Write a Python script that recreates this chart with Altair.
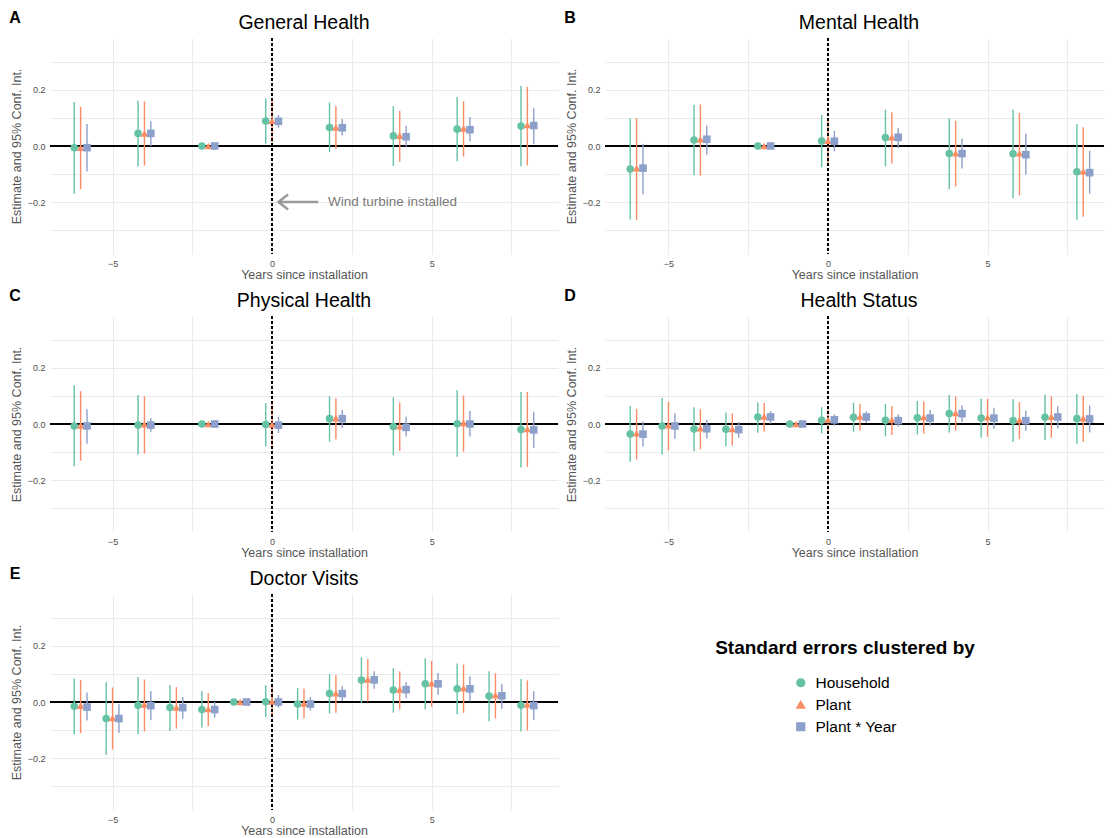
import altair as alt
import pandas as pd

SERIES = ["Household", "Plant", "Plant * Year"]
COLORS = ["#66C2A5", "#FC8D62", "#8DA0CB"]
SHAPES = ["circle", "triangle-up", "square"]

# ---------------- Panel A: General Health ----------------
A_years = [-6, -4, -2, 0, 2, 4, 6, 8]
A_hh_est = [-0.006, 0.045, 0.0, 0.089, 0.066, 0.036, 0.060, 0.071]
A_hh_lo = [-0.170, -0.072, 0.0, 0.008, -0.022, -0.071, -0.054, -0.072]
A_hh_hi = [0.157, 0.161, 0.0, 0.169, 0.155, 0.142, 0.175, 0.214]
A_pl_est = [-0.006, 0.045, 0.0, 0.089, 0.066, 0.037, 0.063, 0.075]
A_pl_lo = [-0.154, -0.070, 0.0, 0.014, -0.011, -0.056, -0.038, -0.069]
A_pl_hi = [0.140, 0.159, 0.0, 0.163, 0.143, 0.125, 0.159, 0.211]
A_py_est = [-0.006, 0.045, 0.0, 0.088, 0.065, 0.033, 0.058, 0.073]
A_py_lo = [-0.091, 0.000, 0.0, 0.065, 0.037, -0.002, 0.017, 0.006]
A_py_hi = [0.078, 0.088, 0.0, 0.111, 0.096, 0.072, 0.103, 0.135]

# ---------------- Panel B: Mental Health ----------------
B_years = [-6, -4, -2, 0, 2, 4, 6, 8]
B_hh_est = [-0.082, 0.021, 0.0, 0.018, 0.030, -0.027, -0.028, -0.092]
B_hh_lo = [-0.262, -0.104, 0.0, -0.076, -0.072, -0.154, -0.185, -0.263]
B_hh_hi = [0.098, 0.147, 0.0, 0.111, 0.129, 0.099, 0.129, 0.078]
B_pl_est = [-0.079, 0.024, 0.0, 0.019, 0.031, -0.026, -0.026, -0.090]
B_pl_lo = [-0.264, -0.105, 0.0, -0.070, -0.062, -0.144, -0.176, -0.252]
B_pl_hi = [0.099, 0.148, 0.0, 0.100, 0.120, 0.090, 0.118, 0.067]
B_py_est = [-0.079, 0.024, 0.0, 0.017, 0.031, -0.027, -0.031, -0.095]
B_py_lo = [-0.172, -0.030, 0.0, -0.019, -0.008, -0.080, -0.102, -0.170]
B_py_hi = [0.008, 0.072, 0.0, 0.054, 0.065, 0.026, 0.044, -0.017]

# ---------------- Panel C: Physical Health ----------------
C_years = [-6, -4, -2, 0, 2, 4, 6, 8]
C_hh_est = [-0.007, -0.004, 0.0, -0.002, 0.019, -0.009, 0.001, -0.020]
C_hh_lo = [-0.151, -0.109, 0.0, -0.080, -0.063, -0.112, -0.117, -0.155]
C_hh_hi = [0.138, 0.103, 0.0, 0.075, 0.099, 0.095, 0.121, 0.114]
C_pl_est = [-0.005, -0.001, 0.0, -0.002, 0.021, -0.008, 0.004, -0.018]
C_pl_lo = [-0.131, -0.105, 0.0, -0.078, -0.054, -0.095, -0.099, -0.153]
C_pl_hi = [0.117, 0.099, 0.0, 0.070, 0.092, 0.076, 0.102, 0.114]
C_py_est = [-0.007, -0.004, 0.0, -0.004, 0.019, -0.012, 0.000, -0.021]
C_py_lo = [-0.070, -0.028, 0.0, -0.032, -0.013, -0.045, -0.045, -0.085]
C_py_hi = [0.053, 0.021, 0.0, 0.026, 0.050, 0.027, 0.046, 0.044]

# ---------------- Panel D: Health Status ----------------
D_years = [-6, -5, -4, -3, -2, -1, 0, 1, 2, 3, 4, 5, 6, 7, 8]
D_hh_est = [-0.036, -0.007, -0.018, -0.019, 0.025, 0.0, 0.013, 0.024, 0.013, 0.022, 0.037, 0.021, 0.012, 0.024, 0.019]
D_hh_lo = [-0.135, -0.109, -0.097, -0.080, -0.031, 0.0, -0.033, -0.028, -0.044, -0.037, -0.030, -0.049, -0.064, -0.057, -0.070]
D_hh_hi = [0.064, 0.093, 0.060, 0.041, 0.077, 0.0, 0.060, 0.076, 0.071, 0.082, 0.103, 0.091, 0.088, 0.105, 0.107]
D_pl_est = [-0.033, -0.004, -0.015, -0.018, 0.027, 0.0, 0.015, 0.027, 0.015, 0.025, 0.039, 0.024, 0.014, 0.026, 0.021]
D_pl_lo = [-0.127, -0.095, -0.090, -0.077, -0.027, 0.0, -0.031, -0.024, -0.039, -0.034, -0.024, -0.046, -0.054, -0.049, -0.063]
D_pl_hi = [0.054, 0.079, 0.053, 0.038, 0.075, 0.0, 0.052, 0.071, 0.064, 0.080, 0.098, 0.089, 0.078, 0.098, 0.101]
D_py_est = [-0.036, -0.007, -0.017, -0.020, 0.025, 0.0, 0.015, 0.025, 0.012, 0.021, 0.037, 0.021, 0.012, 0.025, 0.018]
D_py_lo = [-0.080, -0.053, -0.052, -0.049, 0.001, 0.0, -0.006, 0.004, -0.009, -0.006, 0.007, -0.017, -0.024, -0.015, -0.030]
D_py_hi = [0.009, 0.038, 0.015, 0.007, 0.046, 0.0, 0.034, 0.045, 0.034, 0.050, 0.067, 0.058, 0.047, 0.063, 0.066]

# ---------------- Panel E: Doctor Visits ----------------
E_years = [-6, -5, -4, -3, -2, -1, 0, 1, 2, 3, 4, 5, 6, 7, 8]
E_hh_est = [-0.015, -0.059, -0.012, -0.020, -0.027, 0.0, 0.001, -0.007, 0.030, 0.078, 0.043, 0.065, 0.047, 0.021, -0.012]
E_hh_lo = [-0.115, -0.188, -0.114, -0.103, -0.091, 0.0, -0.054, -0.063, -0.041, -0.004, -0.038, -0.026, -0.044, -0.069, -0.105]
E_hh_hi = [0.084, 0.070, 0.089, 0.060, 0.038, 0.0, 0.060, 0.050, 0.099, 0.160, 0.121, 0.156, 0.137, 0.110, 0.082]
E_pl_est = [-0.013, -0.057, -0.009, -0.019, -0.025, 0.0, 0.002, -0.005, 0.031, 0.080, 0.045, 0.067, 0.050, 0.025, -0.009]
E_pl_lo = [-0.111, -0.169, -0.105, -0.095, -0.086, 0.0, -0.051, -0.058, -0.038, 0.002, -0.026, -0.017, -0.039, -0.059, -0.101]
E_pl_hi = [0.079, 0.052, 0.080, 0.053, 0.032, 0.0, 0.054, 0.047, 0.095, 0.153, 0.110, 0.147, 0.133, 0.103, 0.077]
E_py_est = [-0.018, -0.059, -0.013, -0.020, -0.027, 0.0, 0.000, -0.007, 0.030, 0.079, 0.044, 0.065, 0.047, 0.022, -0.013]
E_py_lo = [-0.066, -0.110, -0.064, -0.060, -0.056, 0.0, -0.020, -0.030, 0.004, 0.047, 0.013, 0.026, 0.002, -0.024, -0.064]
E_py_hi = [0.034, -0.008, 0.039, 0.018, 0.000, 0.0, 0.025, 0.018, 0.056, 0.110, 0.071, 0.103, 0.091, 0.065, 0.038]

X_TICKS = [-5, -2.5, 0, 2.5, 5, 7.5]
Y_TICKS = [-0.3, -0.2, -0.1, 0.0, 0.1, 0.2, 0.3]
X_DOMAIN_LEFT = [-6.96, 8.96]
X_DOMAIN_RIGHT = [-6.99, 8.65]
Y_DOMAIN = [-0.385, 0.385]
DODGE = 0.2

FONT = "Liberation Sans"
W_LEFT, W_RIGHT, H = 508, 499, 216

y_scale = alt.Scale(domain=Y_DOMAIN, nice=False, zero=False)
x_axis = alt.Axis(values=X_TICKS, title="Years since installation",
                  labelExpr="(datum.value == -5 || datum.value == 0 || datum.value == 5) ? datum.label : ''")
y_axis = alt.Axis(values=Y_TICKS, format=".1f", title="Estimate and 95% Conf. Int.",
                  labelExpr="(abs(datum.value) < 0.01 || abs(abs(datum.value) - 0.2) < 0.01) ? datum.label : ''")


def build_df(years, est_lists, lo_lists, hi_lists):
    rows = []
    for k, s in enumerate(SERIES):
        for i, yr in enumerate(years):
            rows.append({"year": yr, "series": s, "k": k,
                         "est": est_lists[k][i], "lo": lo_lists[k][i], "hi": hi_lists[k][i]})
    return pd.DataFrame(rows)


LEGEND = alt.Legend(title="Standard errors clustered by")
color_enc = alt.Color("series:N", scale=alt.Scale(domain=SERIES, range=COLORS), legend=LEGEND)
shape_enc = alt.Shape("series:N", scale=alt.Scale(domain=SERIES, range=SHAPES), legend=LEGEND)


def panel(letter, title, df, x_domain, width, annotate=False):
    x_scale = alt.Scale(domain=x_domain, nice=False, zero=False)
    base = alt.Chart(df).transform_calculate(
        xpos=f"datum.year + (datum.k - 1) * {DODGE}"
    )
    x_enc = alt.X("xpos:Q", scale=x_scale, axis=x_axis)

    hline = alt.Chart(df).mark_rule(color="black", strokeWidth=1).encode(
        y=alt.Y(datum=0, scale=y_scale, axis=y_axis))
    bars = base.mark_rule(strokeWidth=1.4).encode(
        x=x_enc,
        y=alt.Y("lo:Q", scale=y_scale, axis=y_axis),
        y2="hi:Q",
        color=color_enc,
    )
    vline = alt.Chart(df).mark_rule(color="black", strokeWidth=0.9, strokeDash=[3, 2]).encode(
        x=alt.X(datum=0, scale=x_scale, axis=x_axis))
    pts = base.mark_point(filled=True, size=58, opacity=1).encode(
        x=x_enc,
        y=alt.Y("est:Q", scale=y_scale, axis=y_axis),
        color=color_enc,
        shape=shape_enc,
    )
    lab_df = pd.DataFrame({"letter": [letter], "title": [title]})
    lab = alt.Chart(lab_df).mark_text(
        font=FONT, fontSize=16, fontWeight="bold", align="center", baseline="middle", color="black"
    ).encode(text="letter:N", x=alt.value(-35), y=alt.value(-20))
    ttl = alt.Chart(lab_df).mark_text(
        font=FONT, fontSize=19.5, align="center", baseline="alphabetic", color="black"
    ).encode(text="title:N", x=alt.value(W_LEFT / 2), y=alt.value(-9))

    layers = [hline, bars, vline, pts, lab, ttl]
    if annotate:
        arrow_df = pd.DataFrame({"x1": [1.45], "x2": [0.2], "y": [-0.2],
                                 "tx": [1.75], "txt": ["Wind turbine installed"]})
        shaft = alt.Chart(arrow_df).mark_rule(color="#9a9a9a", strokeWidth=2.5).encode(
            x=alt.X("x1:Q", scale=x_scale, axis=x_axis), x2="x2:Q",
            y=alt.Y("y:Q", scale=y_scale, axis=y_axis))
        head = alt.Chart(arrow_df).mark_point(
            shape="M1.6,-1.25L0,0L1.6,1.25", filled=False, color="#9a9a9a",
            strokeWidth=2.5, size=144, opacity=1).encode(
            x=alt.X("x2:Q", scale=x_scale, axis=x_axis),
            y=alt.Y("y:Q", scale=y_scale, axis=y_axis))
        txt = alt.Chart(arrow_df).mark_text(
            font=FONT, fontSize=13.5, color="#7a7a7a", align="left", baseline="middle").encode(
            x=alt.X("tx:Q", scale=x_scale, axis=x_axis),
            y=alt.Y("y:Q", scale=y_scale, axis=y_axis), text="txt:N")
        layers += [shaft, head, txt]

    return alt.layer(*layers).properties(width=width, height=H)


dfA = build_df(A_years, [A_hh_est, A_pl_est, A_py_est], [A_hh_lo, A_pl_lo, A_py_lo], [A_hh_hi, A_pl_hi, A_py_hi])
dfB = build_df(B_years, [B_hh_est, B_pl_est, B_py_est], [B_hh_lo, B_pl_lo, B_py_lo], [B_hh_hi, B_pl_hi, B_py_hi])
dfC = build_df(C_years, [C_hh_est, C_pl_est, C_py_est], [C_hh_lo, C_pl_lo, C_py_lo], [C_hh_hi, C_pl_hi, C_py_hi])
dfD = build_df(D_years, [D_hh_est, D_pl_est, D_py_est], [D_hh_lo, D_pl_lo, D_py_lo], [D_hh_hi, D_pl_hi, D_py_hi])
dfE = build_df(E_years, [E_hh_est, E_pl_est, E_py_est], [E_hh_lo, E_pl_lo, E_py_lo], [E_hh_hi, E_pl_hi, E_py_hi])

pA = panel("A", "General Health", dfA, X_DOMAIN_LEFT, W_LEFT, annotate=True)
pB = panel("B", "Mental Health", dfB, X_DOMAIN_RIGHT, W_RIGHT)
pC = panel("C", "Physical Health", dfC, X_DOMAIN_LEFT, W_LEFT)
pD = panel("D", "Health Status", dfD, X_DOMAIN_RIGHT, W_RIGHT)
pE = panel("E", "Doctor Visits", dfE, X_DOMAIN_LEFT, W_LEFT)

chart = alt.vconcat(
    alt.hconcat(pA, pB, spacing=5).resolve_scale(x="independent"),
    alt.hconcat(pC, pD, spacing=5).resolve_scale(x="independent"),
    pE,
    spacing=7,
).resolve_scale(x="independent").properties(
    padding={"left": 1, "top": 2, "right": 0, "bottom": 0}
).configure_view(stroke=None).configure_axis(
    domain=False, ticks=False, grid=True, gridColor="#EBEBEB", gridWidth=1,
    labelColor="#4D4D4D", labelFontSize=9, labelFont=FONT,
    titleColor="#555555", titleFontSize=12.5, titleFont=FONT, titleFontWeight="normal",
).configure_axisX(titlePadding=0, labelPadding=5).configure_axisY(titlePadding=4, labelPadding=5).configure_legend(
    orient="none", legendX=665, legendY=601,
    titleFont=FONT, titleFontSize=19, titleFontWeight="bold", titleColor="black",
    titleAnchor="middle", titlePadding=17, titleLimit=500,
    labelFont=FONT, labelFontSize=15.5, labelColor="black", labelOffset=7,
    symbolSize=60, symbolOffset=0, rowPadding=5,
)

chart.save("out.html", embed_options={"renderer": "svg", "actions": False})
